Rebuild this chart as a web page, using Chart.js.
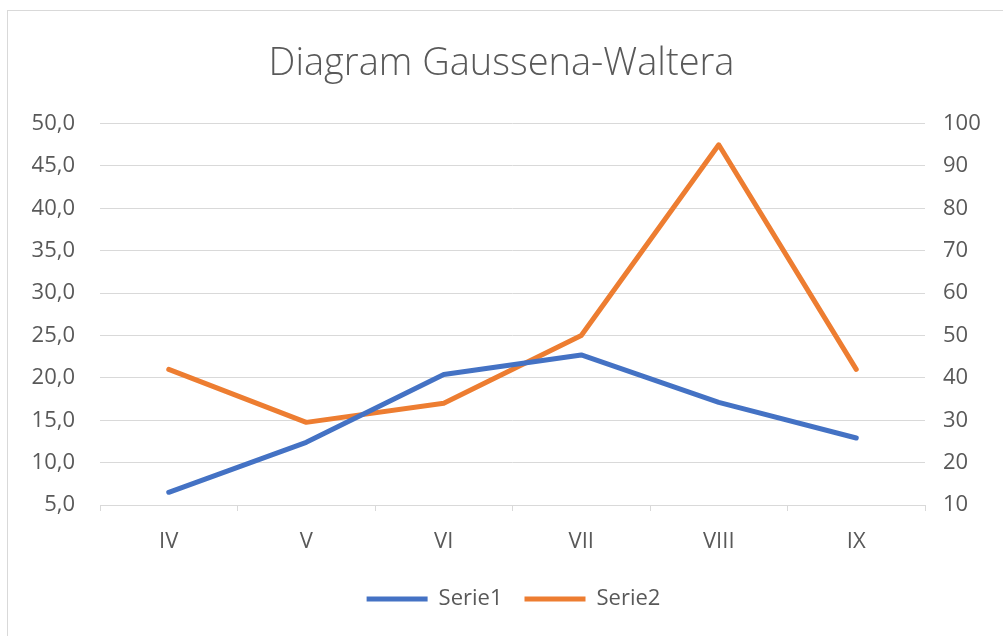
<!DOCTYPE html>
<html>
<head>
<meta charset="utf-8">
<script src="https://cdn.jsdelivr.net/npm/chart.js@4/dist/chart.umd.min.js"></script>
<style>
  html, body { margin: 0; padding: 0; background: #ffffff; }
  #wrap { position: relative; width: 1003px; height: 636px; overflow: hidden; }
  #frame { position: absolute; left: 7px; top: 10px; width: 1010px; height: 640px; border: 1px solid #d9d9d9; pointer-events: none; }
  canvas { position: absolute; left: 0; top: 0; }
</style>
</head>
<body>
<div id="wrap">
  <canvas id="c" width="1003" height="636"></canvas>
  <div id="frame"></div>
</div>
<script>
const categories = ['IV', 'V', 'VI', 'VII', 'VIII', 'IX'];
const serie1 = [6.5, 12.4, 20.4, 22.7, 17.1, 12.9];
const serie2 = [42, 29.5, 34, 50, 95, 42];
const leftTicks = [5, 10, 15, 20, 25, 30, 35, 40, 45, 50];
const rightTicks = [10, 20, 30, 40, 50, 60, 70, 80, 90, 100];
const titleText = 'Diagram Gaussena-Waltera';
const seriesNames = ['Serie1', 'Serie2'];

const FONT = '"Open Sans", Lato, sans-serif';
const TEXT = '#595959';
const GRID = '#d9d9d9';

const legendShift = {
  id: 'legendShift',
  afterLayout(chart) {
    chart.legend.left += 12;
    chart.legend.right += 12;
  }
};

new Chart(document.getElementById('c'), {
  type: 'line',
  plugins: [legendShift],
  data: {
    labels: categories,
    datasets: [
      { label: seriesNames[0], data: serie1, yAxisID: 'y', borderColor: '#4472C4', backgroundColor: '#4472C4', borderWidth: 5, pointRadius: 0, tension: 0, borderCapStyle: 'round', borderJoinStyle: 'round' },
      { label: seriesNames[1], data: serie2, yAxisID: 'y1', borderColor: '#ED7D31', backgroundColor: '#ED7D31', borderWidth: 5, pointRadius: 0, tension: 0, borderCapStyle: 'round', borderJoinStyle: 'round' }
    ]
  },
  options: {
    responsive: false,
    animation: false,
    layout: { padding: { left: 0, right: 0, top: 0, bottom: 16 } },
    plugins: {
      tooltip: { enabled: false },
      title: {
        display: true,
        text: titleText,
        color: TEXT,
        font: { family: FONT, size: 38, weight: 300, lineHeight: 1.2 },
        padding: { top: 41, bottom: 37 }
      },
      legend: {
        display: true,
        position: 'bottom',
        labels: {
          color: TEXT,
          font: { family: FONT, size: 22 },
          boxWidth: 61,
          boxHeight: 5,
          padding: 22,
          generateLabels(chart) {
            return chart.data.datasets.map((ds, i) => ({
              text: ds.label,
              fillStyle: ds.borderColor,
              strokeStyle: ds.borderColor,
              lineWidth: 0,
              hidden: false,
              datasetIndex: i,
              fontColor: TEXT
            }));
          }
        }
      }
    },
    scales: {
      x: {
        offset: true,
        grid: { display: true, offset: true, drawOnChartArea: false, color: GRID, tickLength: 6, tickColor: GRID },
        border: { display: true, color: GRID },
        ticks: { color: TEXT, font: { family: FONT, size: 22 }, padding: 18 },
        afterFit(s) { s.height = 61; }
      },
      y: {
        position: 'left',
        min: 5, max: 50,
        afterBuildTicks(s) { s.ticks = leftTicks.map(v => ({ value: v })); },
        grid: { color: GRID, drawTicks: false },
        border: { display: false },
        ticks: { color: TEXT, font: { family: FONT, size: 22 }, padding: 25, callback: v => v.toFixed(1).replace('.', ',') },
        afterFit(s) { s.width = 100; }
      },
      y1: {
        position: 'right',
        min: 10, max: 100,
        afterBuildTicks(s) { s.ticks = rightTicks.map(v => ({ value: v })); },
        grid: { drawOnChartArea: false, drawTicks: false },
        border: { display: false },
        ticks: { color: TEXT, font: { family: FONT, size: 22 }, padding: 18, callback: v => String(v) },
        afterFit(s) { s.width = 78; }
      }
    }
  }
});
</script>
</body>
</html>
